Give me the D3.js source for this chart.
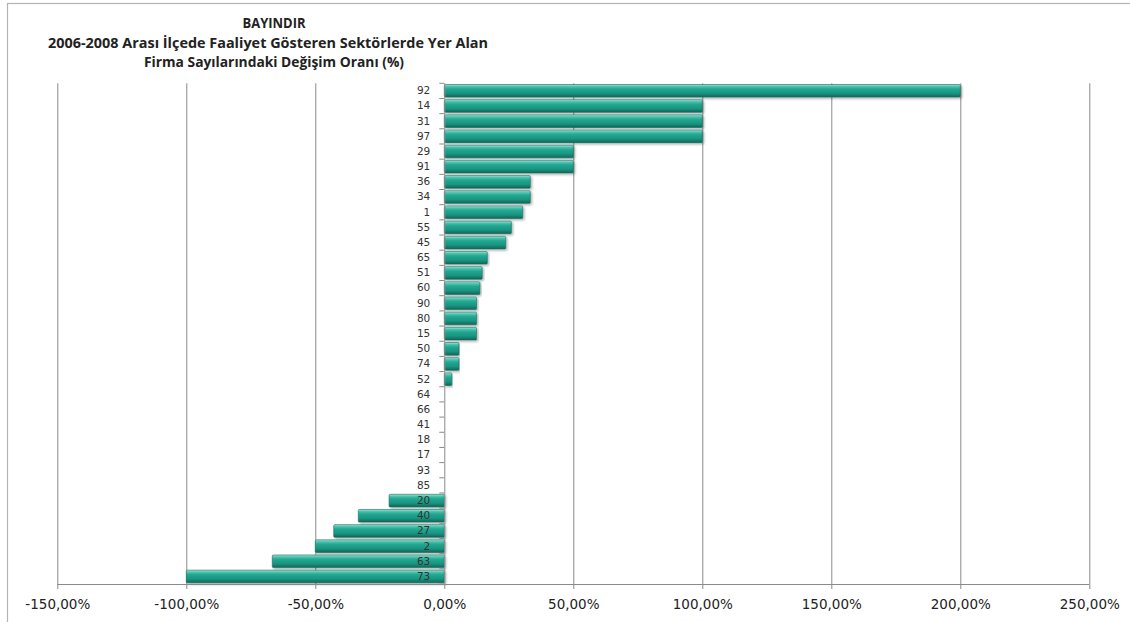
<!DOCTYPE html>
<html><head><meta charset="utf-8">
<script src="https://cdn.jsdelivr.net/npm/d3@7"></script>
<style>body{margin:0;background:#fff}svg{display:block}</style>
</head><body>
<svg id="c" width="1130" height="622"></svg>
<script>
const titleLines = ["BAYINDIR", "2006-2008 Arası İlçede Faaliyet Gösteren Sektörlerde Yer Alan", "Firma Sayılarındaki Değişim Oranı (%)"];
const categories = ["92","14","31","97","29","91","36","34","1","55","45","65","51","60","90","80","15","50","74","52","64","66","41","18","17","93","85","20","40","27","2","63","73"];
const values = [200,100,100,100,50,50,33.33,33.33,30.4,26,23.8,16.67,14.7,13.8,12.5,12.5,12.5,5.7,5.7,2.9,0,0,0,0,0,0,0,-21.4,-33.33,-42.86,-50,-66.67,-100];
const xTicks = [-150,-100,-50,0,50,100,150,200,250];

const svg = d3.select("#c");
const m = {left:57.3, right:1089.3, top:83.3, bottom:584};

// chart border
svg.append("rect").attr("x",7.5).attr("y",3.5).attr("width",1140).attr("height",640)
  .attr("fill","none").attr("stroke","#b4b4b4").attr("stroke-width",1.2);

const defs = svg.append("defs");
const g1 = defs.append("linearGradient").attr("id","barG").attr("x1",0).attr("y1",0).attr("x2",0).attr("y2",1);
[["0%","#a6e6d9"],["15%","#4fc4ae"],["35%","#22a893"],["70%","#1a947f"],["100%","#0f6457"]].forEach(s=>g1.append("stop").attr("offset",s[0]).attr("stop-color",s[1]));
const f = defs.append("filter").attr("id","sh").attr("x","-5%").attr("y","-20%").attr("width","110%").attr("height","160%");
f.append("feDropShadow").attr("dx",1.5).attr("dy",1.5).attr("stdDeviation",1).attr("flood-color","#000").attr("flood-opacity",0.3);

const x = d3.scaleLinear().domain([-150,250]).range([m.left,m.right]);
const y = d3.scaleBand().domain(categories).range([m.top,m.bottom]).paddingInner(0.17).paddingOuter(0.08);

// gridlines
svg.append("g").selectAll("line").data(xTicks.filter(t=>t!==0)).join("line")
  .attr("x1",d=>x(d)+0.5).attr("x2",d=>x(d)+0.5).attr("y1",m.top).attr("y2",m.bottom)
  .attr("stroke","#8a8a8a").attr("stroke-width",1);

// bars
const barData = values.map((v,i)=>({c:categories[i],v})).filter(d=>d.v!==0);
svg.append("g").selectAll("rect").data(barData).join("rect")
  .attr("x",d=>x(Math.min(0,d.v))).attr("width",d=>Math.abs(x(d.v)-x(0)))
  .attr("y",d=>y(d.c)).attr("height",y.bandwidth())
  .attr("fill","url(#barG)").attr("stroke","#176b5f").attr("stroke-width",0.6)
  .attr("rx",1).attr("filter","url(#sh)");

const fmt = d => (d<0?"-":"") + d3.format(".2f")(Math.abs(d)).replace(".",",") + "%";

// x axis
const xa = svg.append("g").attr("transform",`translate(0,${m.bottom})`)
  .call(d3.axisBottom(x).tickValues(xTicks).tickSize(5).tickPadding(10).tickFormat(fmt));
xa.select(".domain").attr("stroke","#8a8a8a").attr("d",`M${m.left},0.5H${m.right}`);
xa.selectAll(".tick line").attr("stroke","#8a8a8a");
xa.selectAll("text").attr("font-family","DejaVu Sans").attr("font-size","13.5px").attr("fill","#222");

// y axis at zero
const ya = svg.append("g").attr("transform",`translate(${x(0)},0)`)
  .call(d3.axisLeft(y).tickSize(0).tickPadding(14));
ya.select(".domain").attr("stroke","#8a8a8a").attr("d",`M0.5,${m.top}V${m.bottom}`);
ya.selectAll("text").attr("font-family","DejaVu Sans").attr("font-size","10.5px").attr("fill","#333");
// category boundary ticks
svg.append("g").selectAll("line").data(d3.range(categories.length+1)).join("line")
  .attr("x1",x(0)-5).attr("x2",x(0)).attr("y1",i=>m.top+i*(m.bottom-m.top)/categories.length).attr("y2",i=>m.top+i*(m.bottom-m.top)/categories.length)
  .attr("stroke","#8a8a8a");

// title
const tt = svg.append("g").attr("font-family","Open Sans").attr("font-weight","bold").attr("fill","#222").attr("text-anchor","middle");
const tys = [28, 48, 67];
const tws = [63, 440, 260];
titleLines.forEach((t,i)=>tt.append("text").attr("x",i===1?268:274).attr("y",tys[i]).attr("font-size","14px")
  .attr("textLength",tws[i]).attr("lengthAdjust","spacingAndGlyphs").text(t));
</script>
</body></html>
